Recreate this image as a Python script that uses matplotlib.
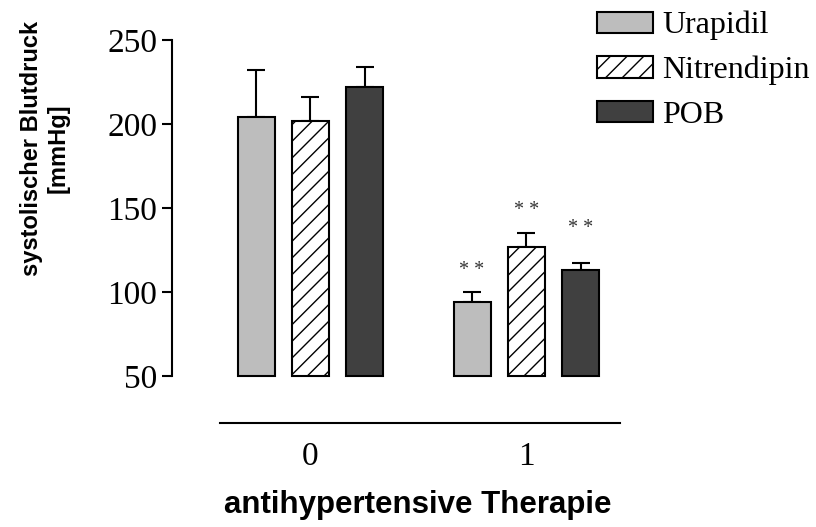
import numpy as np
import matplotlib
matplotlib.use('Agg')
import matplotlib.pyplot as plt

# data
groups = ['0', '1']
drugs = ['Urapidil', 'Nitrendipin', 'POB']
means = {'Urapidil': [204, 94], 'Nitrendipin': [202, 127], 'POB': [222, 113]}
errs = {'Urapidil': [28, 6], 'Nitrendipin': [14, 8], 'POB': [12, 4]}
stars = {'Urapidil': [None, 110], 'Nitrendipin': [None, 146], 'POB': [None, 135]}

faces = {'Urapidil': '#bdbdbd', 'Nitrendipin': 'white', 'POB': '#404040'}
hatches = {'Urapidil': None, 'Nitrendipin': '//', 'POB': None}

plt.rcParams['hatch.linewidth'] = 1.0
serif = 'Liberation Serif'
sans = 'Liberation Sans'

fig = plt.figure(figsize=(8.16, 5.27), dpi=100)
ax = fig.add_axes([0.2108, 0.1973, 0.5735, 0.7268])

x = np.arange(len(groups))
offset = 0.252
width = 0.171
base = 50

for i, d in enumerate(drugs):
    pos = x + (i - 1) * offset
    heights = np.array(means[d]) - base
    ax.bar(pos, heights, width, bottom=base, color=faces[d], edgecolor='black',
           linewidth=1.5, hatch=hatches[d], label=d, zorder=2)
    ax.errorbar(pos, means[d], yerr=[np.zeros(len(groups)), errs[d]], fmt='none',
                ecolor='black', elinewidth=1.5, capsize=6.5, capthick=1.5, zorder=1)
    for p, s in zip(pos, stars[d]):
        if s is not None:
            ax.text(p, s, '* *', ha='center', va='baseline', fontsize=14.5,
                    family=serif, color='#333333')

ax.set_xlim(-0.641, 1.5255)
ax.set_ylim(22.0, 250)
ax.set_yticks([50, 100, 150, 200, 250])
ax.set_xticks(x)
ax.set_xticklabels(groups)

ax.spines['top'].set_visible(False)
ax.spines['right'].set_visible(False)
ax.spines['left'].set_bounds(50, 250)
ax.spines['bottom'].set_bounds(-0.419, 1.432)
ax.spines['left'].set_linewidth(1.5)
ax.spines['bottom'].set_linewidth(1.5)

ax.tick_params(axis='y', direction='out', length=7, width=1.5, pad=3.5, labelsize=24)
ax.tick_params(axis='x', length=0, pad=13, labelsize=24)
for lab in ax.get_xticklabels() + ax.get_yticklabels():
    lab.set_family(serif)

fig.text(45 / 816, 1 - 148 / 527, 'systolischer Blutdruck\n[mmHg]', rotation=90,
         ha='center', va='center', multialignment='center', fontsize=17,
         fontweight='bold', family=sans, linespacing=1.2)
fig.text(418 / 816, 1 - 505 / 527, 'antihypertensive Therapie', ha='center',
         va='center', fontsize=22.5, fontweight='bold', family=sans)

leg = fig.legend(loc='upper left', bbox_to_anchor=(597 / 816, 1 - 11 / 527),
                 frameon=False, prop={'family': serif, 'size': 23},
                 handlelength=1.75, handleheight=0.65, handletextpad=0.3,
                 labelspacing=0.48, borderpad=0, borderaxespad=0)

fig.savefig('out.png', dpi=100)
